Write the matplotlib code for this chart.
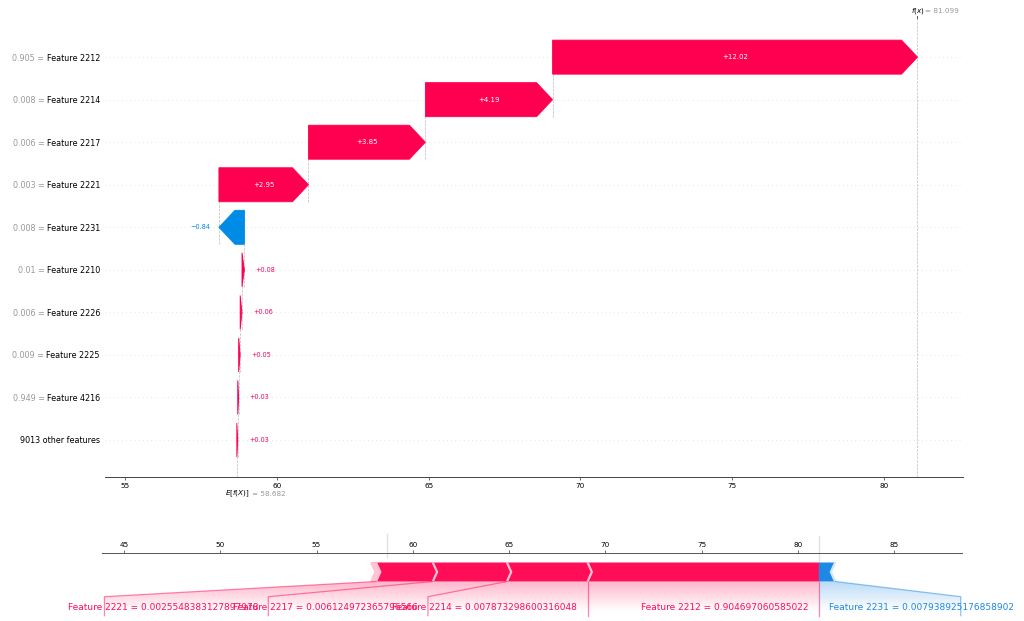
import numpy as np
import matplotlib
matplotlib.use("Agg")
import matplotlib.pyplot as plt
from matplotlib.patches import Polygon, PathPatch
from matplotlib.path import Path
from matplotlib.lines import Line2D
import matplotlib.colors as mcolors
import matplotlib.transforms as mtransforms

# ---------------- data ----------------
feature_names = ["Feature 2212", "Feature 2214", "Feature 2217", "Feature 2221", "Feature 2231",
                 "Feature 2210", "Feature 2226", "Feature 2225", "Feature 4216"]
feature_values = ["0.905", "0.008", "0.006", "0.003", "0.008", "0.01", "0.006", "0.009", "0.949"]
shap_values = [12.02, 4.19, 3.85, 2.95, -0.84, 0.08, 0.06, 0.05, 0.03]
other_label = "9013 other features"
other_value = 0.03
base_value = 58.682
fx_value = 81.099
wf_xticks = [55, 60, 65, 70, 75, 80]

force_pos_names = ["Feature 2212", "Feature 2214", "Feature 2217", "Feature 2221"]
force_pos_raw = ["0.904697060585022", "0.007873298600316048",
                 "0.006124972365796566", "0.0025548383127897978"]
force_pos_values = [12.02, 4.19, 3.85, 2.95, 0.08, 0.06, 0.05, 0.03, 0.03]
force_neg_names = ["Feature 2231"]
force_neg_raw = ["0.007938925176858902"]
force_neg_values = [0.84]
force_xticks = [45, 50, 55, 60, 65, 70, 75, 80, 85]

# ---------------- style ----------------
RED = "#FF0051"
BLUE = "#008BE6"
F_RED, F_RED_L = "#FF0D57", "#FFC3D5"
F_BLUE, F_BLUE_L = "#1E88E5", "#D1E6FA"

W, H = 1024, 621
fig = plt.figure(figsize=(W / 100, H / 100), dpi=100)
renderer = fig.canvas.get_renderer()

# ================= waterfall =================
ax = fig.add_axes([105 / W, 1 - 477 / H, 858 / W, 459 / H])
wf_xlim = (54.34, 82.60)
wf_ylim = (-0.87, 9.92)
ax.set_xlim(*wf_xlim)
ax.set_ylim(*wf_ylim)
n_rows = len(feature_names) + 1
rows = list(range(n_rows - 1, 0, -1))  # top feature at highest row
ppu = ax.bbox.width / (wf_xlim[1] - wf_xlim[0])
hl = 16 / ppu
half = 0.4

# cumulative positions from the base value upward
cur = base_value
other_start = cur
cur += other_value
other_end = cur
f_start = [0.0] * len(shap_values)
f_end = [0.0] * len(shap_values)
for i in reversed(range(len(shap_values))):
    f_start[i] = cur
    cur += shap_values[i]
    f_end[i] = cur

for r in range(n_rows):
    ax.axhline(r, color="#cccccc", lw=0.5, dashes=(1, 5), zorder=-1)

ax.axvline(fx_value, 0, 1, color="#bbbbbb", ls="--", lw=0.5, zorder=-1)
ax.axvline(base_value, 0, 1 / n_rows, color="#bbbbbb", ls="--", lw=0.5, zorder=-1)


def arrow(start, end, y):
    d = end - start
    sgn = 1 if d >= 0 else -1
    h = min(abs(d), hl)
    neck = end - sgn * h
    pts = [(start, y - half), (neck, y - half), (end, y), (neck, y + half), (start, y + half)]
    c = RED if d >= 0 else BLUE
    ax.add_patch(Polygon(pts, closed=True, facecolor=c, edgecolor=c, lw=0.6, zorder=2))


def bar_label(start, end, y, val):
    d = end - start
    txt = ("%+0.02f" % val).replace("-", "\u2212")
    t = ax.text((start + end) / 2, y, txt, ha="center", va="center", color="white",
                fontsize=5.0, zorder=3)
    bb = t.get_window_extent(renderer)
    if bb.width * 1.4 > abs(d) * ppu:
        t.remove()
        if d >= 0:
            ax.annotate(txt, xy=(end, y), xytext=(8.0, 0), textcoords="offset points",
                        ha="left", va="center", color=RED, fontsize=4.7)
        else:
            ax.annotate(txt, xy=(end, y), xytext=(-6.3, 0), textcoords="offset points",
                        ha="right", va="center", color=BLUE, fontsize=4.7)


for i, r in enumerate(rows):
    arrow(f_start[i], f_end[i], r)
    bar_label(f_start[i], f_end[i], r, shap_values[i])
    ax.plot([f_start[i], f_start[i]], [r - 1 - 0.4, r + 0.4], color="#bbbbbb",
            ls="--", lw=0.5, zorder=-1)
arrow(other_start, other_end, 0)
bar_label(other_start, other_end, 0, other_value)

# y labels: black names as tick labels, gray "value =" drawn to their left
name_labels = feature_names + [other_label]
ypos = rows + [0]
ax.set_yticks(ypos)
ax.set_yticklabels(name_labels)
ax.tick_params(axis="y", length=0, pad=3.6, labelsize=5.8, labelcolor="black")

ax.set_xticks(wf_xticks)
ax.tick_params(axis="x", labelsize=5.2, length=2, width=0.5, pad=2.2, color="#333333")
for s in ["top", "right", "left"]:
    ax.spines[s].set_visible(False)
ax.spines["bottom"].set_color("#444444")
ax.spines["bottom"].set_linewidth(0.7)

fig.canvas.draw()
ytr = mtransforms.blended_transform_factory(fig.transFigure, ax.transData)
for lab, val in zip(ax.get_yticklabels()[:len(feature_values)], feature_values):
    x0 = lab.get_window_extent(renderer).x0
    ax.text((x0 - 2.2) / W, lab.get_position()[1], f"{val} =", transform=ytr,
            ha="right", va="center_baseline", fontsize=5.8, color="#999999")

xt = ax.get_xaxis_transform()
ax.annotate("$E[f(X)]$", xy=(base_value, 0), xycoords=xt, xytext=(-8.3, -12.3),
            textcoords="offset points", ha="left", va="center", fontsize=5.2, color="black")
ax.annotate("= %.3f" % base_value, xy=(base_value, 0), xycoords=xt, xytext=(10.8, -12.5),
            textcoords="offset points", ha="left", va="center", fontsize=5.2, color="#999999")
ax.annotate("$f(x)$", xy=(fx_value, 1), xycoords=xt, xytext=(-4.6, 5.3),
            textcoords="offset points", ha="left", va="center", fontsize=5.2, color="black")
ax.annotate("= %.3f" % fx_value, xy=(fx_value, 1), xycoords=xt, xytext=(5.6, 5.1),
            textcoords="offset points", ha="left", va="center", fontsize=5.2, color="#999999")
ax.plot([fx_value, fx_value], [1.0, 1.0 + 2.5 / 459], transform=xt, color="#333333",
        lw=0.6, clip_on=False)

# ================= force plot =================
fax = fig.add_axes([102.3 / W, 0, 859.7 / W, 68 / H])
fxlim = (43.87, 88.53)
fylim = (0.15 - 68 / 190, 0.15)
fax.set_xlim(*fxlim)
fax.set_ylim(*fylim)
wb = 0.1
ws = (fxlim[1] - fxlim[0]) / 200
out = fx_value
ppu_f = fax.bbox.width / (fxlim[1] - fxlim[0])


def draw_bars(values, kind):
    rects, seps, bounds = [], [], []
    pre = out
    for idx, v in enumerate(values):
        if kind == "positive":
            left, right = pre - v, pre
            pre = left
            ind = abs(ws)
            sep_pos = left
            cols = (F_RED, F_RED_L)
            bounds.append(left)
        else:
            left, right = pre, pre + v
            pre = right
            ind = -abs(ws)
            sep_pos = right
            cols = (F_BLUE, F_BLUE_L)
            bounds.append(right)
        if idx == 0:
            if kind == "positive":
                pts = [[left, 0], [right, 0], [right, wb], [left, wb], [left + ind, wb / 2]]
            else:
                pts = [[right, 0], [left, 0], [left, wb], [right, wb], [right + ind, wb / 2]]
        else:
            pts = [[left, 0], [right, 0], [right + ind * 0.9, wb / 2], [right, wb],
                   [left, wb], [left + ind * 0.9, wb / 2]]
        rects.append(Polygon(pts, closed=True, fill=True, facecolor=cols[0], lw=0))
        seps.append(Polygon([[sep_pos, 0], [sep_pos + ind, wb / 2], [sep_pos, wb]],
                            closed=False, fill=False, edgecolor=cols[1], lw=1.6))
    for p in rects + seps:
        fax.add_patch(p)
    return bounds


neg_bounds = draw_bars(force_neg_values, "negative")
pos_bounds = draw_bars(force_pos_values, "positive")

total_effect = sum(force_pos_values) + sum(force_neg_values)
off = 0.022 * total_effect


def line(xs, ys, c):
    ln = Line2D(xs, ys, lw=0.9, alpha=0.5, color=c)
    ln.set_clip_on(False)
    fax.add_line(ln)


def draw_labels(names, raws, values, bounds, kind, k):
    if kind == "positive":
        c, ha, sign = F_RED, "right", 1
        line([out, out], [0, -0.18], c)
    else:
        c, ha, sign = F_BLUE, "left", -1
    start_text = out
    pre_val = out
    box_end = out
    for i in range(len(names)):
        val = bounds[i]
        if abs(val - pre_val) / total_effect < 0.03:
            break
        t = fax.text(start_text - sign * off, -0.15, f"{names[i]} = {raws[i]}",
                     fontsize=6.5, color=c, ha=ha, va="baseline")
        w = k * t.get_window_extent(renderer).width / ppu_f
        box_end_ = start_text - sign * off - sign * w
        if sign * box_end_ > sign * val:
            line([val, val], [0, -0.18], c)
            start_text = val
            box_end = val
        else:
            box_end = box_end_ - sign * off
            line([val, box_end, box_end], [0, -0.08, -0.18], c)
            start_text = box_end
        pre_val = val

    path = Path([[out, 0], [pre_val, 0], [box_end, -0.08], [box_end, -0.2],
                 [out, -0.2], [out, 0]])
    patch = PathPatch(path, facecolor="none", edgecolor="none")
    fax.add_patch(patch)
    rgb = np.array([(255, 13, 87), (255, 255, 255)]) / 255. if kind == "positive" \
        else np.array([(30, 136, 229), (255, 255, 255)]) / 255.
    cm = mcolors.LinearSegmentedColormap.from_list("cm", rgb)
    _, Z2 = np.meshgrid(np.linspace(0, 10), np.linspace(-10, 10))
    im = fax.imshow(Z2, interpolation="quadric", cmap=cm, vmax=0.01, alpha=0.3,
                    origin="lower", extent=[out, box_end, 0, -0.31], aspect="auto",
                    clip_on=True)
    im.set_clip_path(patch)


draw_labels(force_neg_names, force_neg_raw, force_neg_values, neg_bounds, "negative", 0.656)
draw_labels(force_pos_names, force_pos_raw, force_pos_values, pos_bounds, "positive", 0.753)

# base value and output marker lines
for xs, ys in [([base_value, base_value], [0.13, 0.25]), ([out, out], [0, 0.24])]:
    ln = Line2D(xs, ys, lw=1.0, color="#E2E2E2", zorder=0.5)
    ln.set_clip_on(False)
    fax.add_line(ln)

fax.set_xlim(*fxlim)
fax.set_ylim(*fylim)
fax.set_xticks(force_xticks)
fax.tick_params(top=True, bottom=False, left=False, right=False, labelleft=False,
                labeltop=True, labelbottom=False, labelsize=5.2, length=2, width=0.5,
                pad=1.5, color="#333333")
for key, sp in fax.spines.items():
    if key != "top":
        sp.set_visible(False)
fax.spines["top"].set_color("#555555")
fax.spines["top"].set_linewidth(0.7)

fig.savefig("out.png", dpi=100)
